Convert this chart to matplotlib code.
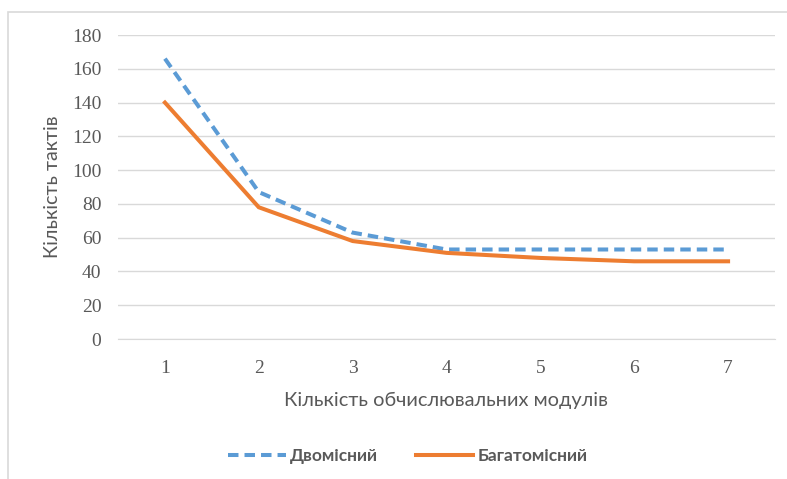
import matplotlib
matplotlib.use("Agg")
import matplotlib.pyplot as plt
from matplotlib.patches import Rectangle

# number of computing modules vs. clock cycles
modules = [1, 2, 3, 4, 5, 6, 7]
two_month = [166, 87, 63, 53, 53, 53, 53]
multi_month = [140, 78, 58, 51, 48, 46, 46]
y_ticks = [0, 20, 40, 60, 80, 100, 120, 140, 160, 180]

W, H = 787, 479
fig = plt.figure(figsize=(W / 100, H / 100), dpi=100)
ax = fig.add_axes([118 / W, 1 - 339 / H, (775 - 118) / W, (339 - 35) / H])

# chart frame (only the left and top edges fall inside the image)
fig.patches.append(Rectangle((8 / W, -0.1), 1.2, 1 - 12 / H + 0.1,
                             transform=fig.transFigure, fill=False,
                             edgecolor="#d9d9d9", lw=1.2))

blue, orange = "#5b9bd5", "#ed7d31"
ax.plot(modules, two_month, color=blue, lw=2.9, dashes=(2.6, 1.5),
        dash_capstyle="butt", label="Двомісний", zorder=3)
ax.plot(modules, multi_month, color=orange, lw=2.9, solid_joinstyle="miter",
        label="Багатомісний", zorder=3)

ax.set_xlim(0.5, 7.5)
ax.set_ylim(0, 180)
ax.set_yticks(y_ticks)
ax.set_xticks(modules)
ax.grid(axis="y", color="#d9d9d9", lw=1.0)
ax.set_axisbelow(True)
for side in ["top", "right", "left"]:
    ax.spines[side].set_visible(False)
ax.spines["bottom"].set_color("#d9d9d9")
ax.tick_params(length=0, labelcolor="#595959", labelsize=14)
ax.tick_params(axis="y", pad=12)
ax.tick_params(axis="x", pad=15)
for lab in ax.get_xticklabels() + ax.get_yticklabels():
    lab.set_family("Liberation Serif")

ax.set_xlabel("Кількість обчислювальних модулів", fontsize=14.4,
              color="#595959", family="Lato", labelpad=11)
ax.set_ylabel("Кількість тактів", fontsize=14.2, color="#595959",
              family="Lato", labelpad=8)

leg = fig.legend(loc="center", bbox_to_anchor=(408 / W, 1 - 456 / H), ncol=2,
                 frameon=False, handlelength=3.3, columnspacing=2.2,
                 handletextpad=0.25,
                 prop={"family": "Lato", "size": 12.5, "weight": "bold"})
for t in leg.get_texts():
    t.set_color("#595959")

fig.savefig("out.png", dpi=100)
